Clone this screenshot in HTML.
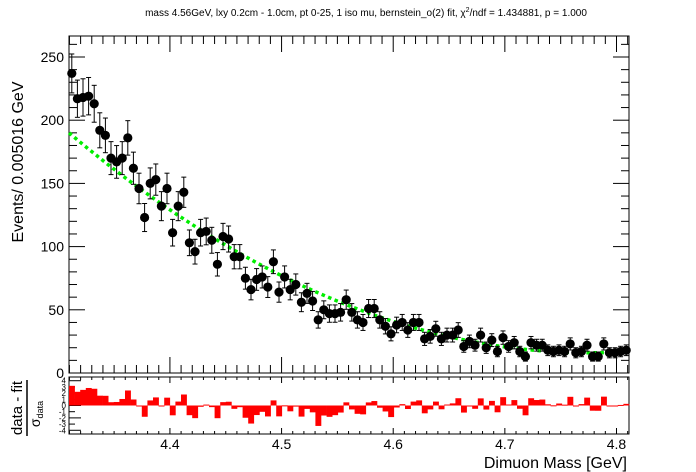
<!DOCTYPE html>
<html><head><meta charset="utf-8"><style>
body{margin:0;background:#fff}
svg{display:block;font-family:"Liberation Sans",sans-serif}
</style></head><body>
<svg id="c" width="696" height="472" viewBox="0 0 696 472">
<text x="366" y="16" font-size="10" text-anchor="middle">mass 4.56GeV, lxy 0.2cm - 1.0cm, pt 0-25, 1 iso mu, bernstein_o(2) fit, χ<tspan dy="-4" font-size="7">2</tspan><tspan dy="4">/ndf = 1.434881, p = 1.000</tspan></text>
<text transform="translate(23,162) rotate(-90)" font-size="16" text-anchor="middle">Events/ 0.005016 GeV</text>
<text x="627" y="468" font-size="16" text-anchor="end">Dimuon Mass [GeV]</text>
<g transform="translate(0,408) rotate(-90)">
<text x="0" y="22" font-size="15" text-anchor="middle">data - fit</text>
<line x1="-28" x2="28" y1="27" y2="27" stroke="#000" stroke-width="1.5"/>
<text x="-6" y="40" font-size="14" text-anchor="middle">σ<tspan font-size="9" dy="3">data</tspan></text>
</g>
<g id="main"></g><g id="pull"></g>
</svg>
<script>
const values=[237,217,218,219,213,192,188,170,167,170,186,162,146,123,150,153,132,146,111,132,143,103,96,111,112,105,86,108,106,92,92,75,66,74,76,68,88,64,76,66,70,56,63,57,42,50,47,
47,48,58,48,42,40,51,51,42,37,31,38,40,34,40,40,27,29,35,27,30,30,34,21,25,22,30,20,26,17,28,21,24,17,13,24,22,22,18,17,18,17,23,16,17,22,13,13,23,16,16,17,18];
const fitCoef=[190,3,17];
const xTicks=[4.4,4.5,4.6,4.7,4.8];
const yTicks=[0,50,100,150,200,250];
const pullTicks=[-4,-3,-2,-1,0,1,2,3,4];
const xMin=4.3096,binW=0.005016,nB=values.length,xMax=xMin+binW*nB;
const L=69,R=629,T=36,B=373,PT=377,PB=434;
const X=v=>L+(v-xMin)/(xMax-xMin)*(R-L);
const Y=v=>B-v*1.264;
const P=v=>(PT+PB)/2-v*(PB-PT)/9.2;
const fit=x=>{const t=(x-xMin)/(xMax-xMin);return fitCoef[0]*(1-t)*(1-t)+fitCoef[1]*2*t*(1-t)+fitCoef[2]*t*t;};
const NS="http://www.w3.org/2000/svg";
function mk(p,tag,a){const e=document.createElementNS(NS,tag);for(const k in a)e.setAttribute(k,a[k]);p.appendChild(e);return e;}
const m=document.getElementById('main'),pg=document.getElementById('pull');
function frame(g,top,bot,name){const r=mk(g,'rect',{x:L,y:top,width:R-L,height:bot-top,fill:'none',stroke:'#000','stroke-width':1});

}
frame(m,T,B,'main-plot-frame');frame(pg,PT,PB,'pull-plot-frame');
for(let v=4.31;v<=xMax+1e-9;v+=0.01){const x=X(v);const major=Math.abs(v*10-Math.round(v*10))<1e-6;const len=major?16:8;
mk(m,'line',{x1:x,x2:x,y1:B,y2:B-len,stroke:'#000'});mk(m,'line',{x1:x,x2:x,y1:T,y2:T+len,stroke:'#000'});
mk(pg,'line',{x1:x,x2:x,y1:PB,y2:PB-(major?6:3),stroke:'#000'});mk(pg,'line',{x1:x,x2:x,y1:PT,y2:PT+(major?6:3),stroke:'#000'});}
xTicks.forEach(v=>{const t=mk(pg,'text',{x:X(v),y:449,'font-size':14,'text-anchor':'middle'});t.textContent=v.toFixed(1);

});
for(let v=0;v<=265;v+=10){const y=Y(v);const major=v%50==0;const len=major?16:8;
mk(m,'line',{x1:L,x2:L+len,y1:y,y2:y,stroke:'#000'});mk(m,'line',{x1:R,x2:R-len,y1:y,y2:y,stroke:'#000'});}
yTicks.forEach(v=>{const t=mk(m,'text',{x:L-5,y:Y(v)+5,'font-size':14,'text-anchor':'end'});t.textContent=v;

});
pullTicks.forEach(v=>{mk(pg,'line',{x1:L,x2:L+(v%2==0?12:6),y1:P(v),y2:P(v),stroke:'#000'});
const t=mk(pg,'text',{x:L-3,y:P(v)+3,'font-size':8,'text-anchor':'end'});t.textContent=v;

});
let d='';for(let i=0;i<=200;i++){const x=xMin+(xMax-xMin)*i/200;d+=(i?'L':'M')+X(x).toFixed(1)+','+Y(fit(x)).toFixed(1);}
const c=mk(m,'path',{d:d,fill:'none',stroke:'#00ee00','stroke-width':3.5,'stroke-dasharray':'3.5,3.5'});


values.forEach((v,i)=>{const xc=xMin+(i+0.5)*binW,x=X(xc),e=Math.sqrt(v);
const g=mk(m,'g',{});


mk(g,'line',{x1:x,x2:x,y1:Y(v+e),y2:Y(v-e),stroke:'#000'});
mk(g,'line',{x1:x-2.5,x2:x+2.5,y1:Y(v+e),y2:Y(v+e),stroke:'#000'});
mk(g,'line',{x1:x-2.5,x2:x+2.5,y1:Y(v-e),y2:Y(v-e),stroke:'#000'});
mk(g,'circle',{cx:x,cy:Y(v),r:4.6,fill:'#000'});
let p=(v-fit(xc))/e;p=Math.max(-4.5,Math.min(4.5,p));
const y0=P(0),y1=P(p);
const b=mk(pg,'rect',{x:X(xMin+i*binW),y:Math.min(y0,y1),width:X(xMin+binW)-L+0.3,height:Math.max(1,Math.abs(y1-y0)),fill:'#ff0000'});

});
</script>
</body></html>
